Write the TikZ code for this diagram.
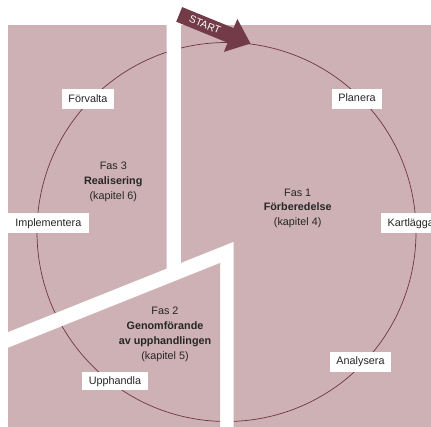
\documentclass[tikz,border=0pt]{standalone}
\usepackage{fontspec}
\setmainfont{Liberation Sans}
\definecolor{pinkbg}{HTML}{CDB1B4}
\definecolor{maroon}{HTML}{733A48}
\definecolor{ringc}{HTML}{6E3444}
\definecolor{txt}{HTML}{262626}
\tikzset{
  block/.style={fill=pinkbg, draw=none},
  steplabel/.style={fill=white, draw=none, text=txt, font=\fontsize{10.8}{12}\selectfont,
    inner xsep=6.5pt, inner ysep=0pt, minimum height=20pt, text height=7.6pt, text depth=2pt},
  phase/.style={text=txt, align=center, font=\fontsize{10.8}{14.8}\selectfont}
}
\begin{document}
\begin{tikzpicture}[x=1pt,y=-1pt]
\useasboundingbox (0,0) rectangle (431,426);
\fill[white] (0,0) rectangle (431,426);
\begin{scope}
\clip (0,0) rectangle (431,426);
% pink blocks
\fill[block] (8,25) -- (166.7,25) -- (166.7,268.5) -- (8,332) -- cycle;
\fill[block] (181,25) -- (440,25) -- (440,440) -- (233.5,440) -- (233.5,241.8) -- (181,262.8) -- cycle;
\fill[block] (8,347.8) -- (220,263) -- (220,440) -- (8,440) -- cycle;
% circle, only on the pink blocks
\begin{scope}
\clip (8,25) -- (166.7,25) -- (166.7,268.5) -- (8,332) -- cycle
      (181,25) -- (440,25) -- (440,440) -- (233.5,440) -- (233.5,241.8) -- (181,262.8) -- cycle
      (8,347.8) -- (220,263) -- (220,440) -- (8,440) -- cycle;
\draw[ringc, line width=0.7pt] (226.5,232) circle[radius=189.5];
\end{scope}
% START arrow
\fill[maroon] (182.2,7.1) -- (233.6,28.1) -- (237.3,18.9) -- (250.5,43.5) -- (223.9,51.9) -- (227.6,42.7) -- (176.2,21.7) -- cycle;
\node[text=white, rotate=-22.2, font=\fontsize{10.3}{11}\selectfont, inner sep=0pt] (start) at (205,24.8) {START};
% step labels
\node[steplabel] (forvalta) at (88,99.3) {Förvalta};
\node[steplabel] (planera) at (357,98.8) {Planera};
\node[steplabel, minimum width=82pt] (impl) at (48.3,223.3) {Implementera};
\node[steplabel, anchor=west] (kart) at (381,223.3) {Kartlägga};
\node[steplabel] (analys) at (360.5,362) {Analysera};
\node[steplabel, minimum width=66.7pt, minimum height=18pt] (upph) at (115,381.3) {Upphandla};
% phase texts
\node[phase] (fas3) at (113.3,181.7) {Fas 3\\\textbf{Realisering}\\(kapitel 6)};
\node[phase] (fas1) at (297.7,208.3) {Fas 1\\\textbf{Förberedelse}\\(kapitel 4)};
\node[phase] (fas2) at (165,334.2) {Fas 2\\\textbf{Genomförande}\\\textbf{av upphandlingen}\\(kapitel 5)};
\end{scope}
\end{tikzpicture}
\end{document}
